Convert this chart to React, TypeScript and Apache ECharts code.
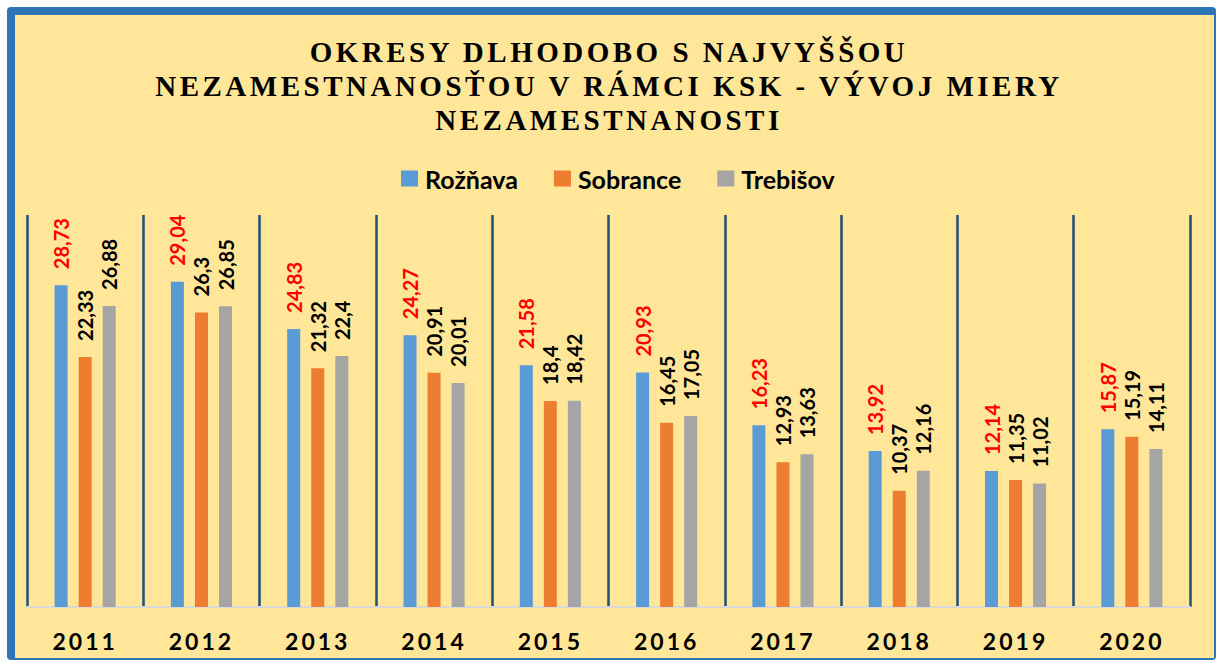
import React, { useEffect, useRef } from "react";
import * as echarts from "echarts";

const years = ["2011", "2012", "2013", "2014", "2015", "2016", "2017", "2018", "2019", "2020"];
const seriesNames = ["Rožňava", "Sobrance", "Trebišov"];
const roznava = [28.73, 29.04, 24.83, 24.27, 21.58, 20.93, 16.23, 13.92, 12.14, 15.87];
const sobrance = [22.33, 26.3, 21.32, 20.91, 18.4, 16.45, 12.93, 10.37, 11.35, 15.19];
const trebisov = [26.88, 26.85, 22.4, 20.01, 18.42, 17.05, 13.63, 12.16, 11.02, 14.11];
const titleText =
  "OKRESY DLHODOBO S NAJVYŠŠOU\nNEZAMESTNANOSŤOU V RÁMCI KSK - VÝVOJ MIERY\nNEZAMESTNANOSTI";

const colors = ["#5B9BD5", "#ED7D31", "#A5A5A5"];
const labelColors = ["#FF0000", "#000000", "#000000"];

export default function App() {
  const ref = useRef<HTMLDivElement>(null);

  useEffect(() => {
    if (!ref.current) return;
    const chart = echarts.init(ref.current, null, { renderer: "svg" });
    const dataSets = [roznava, sobrance, trebisov];

    chart.setOption({
      animation: false,
      backgroundColor: "#FFFFFF",
      graphic: [
        {
          type: "rect",
          z: -10,
          silent: true,
          shape: { x: 7, y: 7, width: 1209, height: 653, r: 4 },
          style: { fill: "#2E75B6" },
        },
        {
          type: "rect",
          z: -9,
          silent: true,
          shape: { x: 15, y: 15, width: 1199, height: 643 },
          style: { fill: "#FFE699" },
        },
      ],
      title: {
        text: titleText,
        left: "center",
        top: 30,
        textStyle: {
          fontFamily: "Liberation Serif",
          fontWeight: "bold",
          fontSize: 29,
          lineHeight: 34,
          color: "#000000",
        },
      },
      legend: {
        data: seriesNames,
        left: 396,
        top: 161,
        icon: "rect",
        itemWidth: 17,
        itemHeight: 16,
        itemGap: 36,
        textStyle: {
          fontFamily: "Lato",
          fontWeight: "bold",
          fontSize: 25,
          color: "#000000",
          padding: [0, 0, 0, 2],
        },
      },
      grid: { left: 27, right: 28, top: 215, bottom: 55 },
      xAxis: {
        type: "category",
        data: years,
        axisLine: { show: true, lineStyle: { color: "#D9D9D9", width: 2 } },
        axisTick: { show: false },
        splitLine: { show: true, lineStyle: { color: "#1F4E79", width: 2.5 } },
        axisLabel: {
          fontFamily: "Lato",
          fontWeight: "bold",
          fontSize: 23,
          color: "#000000",
          margin: 22,
        },
      },
      yAxis: {
        type: "value",
        min: 0,
        max: 35,
        show: false,
        splitLine: { show: false },
      },
      series: seriesNames.map((name, i) => ({
        name,
        type: "bar",
        data: dataSets[i],
        barWidth: 13,
        barGap: "85%",
        itemStyle: { color: colors[i] },
        label: {
          show: true,
          position: "top",
          rotate: 90,
          align: "left",
          verticalAlign: "middle",
          distance: 16,
          fontFamily: "Lato",
          fontWeight: "bold",
          fontSize: 20,
          color: labelColors[i],
          formatter: (p: any) => String(p.value).replace(".", ","),
        },
      })),
    });

    const applySpacing = () => {
      if (!ref.current) return;
      ref.current.querySelectorAll("text").forEach((t) => {
        const s = (t.getAttribute("style") || "") + " " + (t.getAttribute("font-family") || "");
        const txt = t.textContent || "";
        if (s.indexOf("Serif") >= 0) {
          t.setAttribute("letter-spacing", "3.5");
        } else if (years.indexOf(txt.trim()) >= 0) {
          t.setAttribute("letter-spacing", "3");
        }
      });
    };
    applySpacing();
    chart.on("finished", applySpacing);

    return () => {
      chart.dispose();
    };
  }, []);

  return (
    <div
      ref={ref}
      style={{ position: "fixed", left: 0, top: 0, width: 1218, height: 662 }}
    />
  );
}
